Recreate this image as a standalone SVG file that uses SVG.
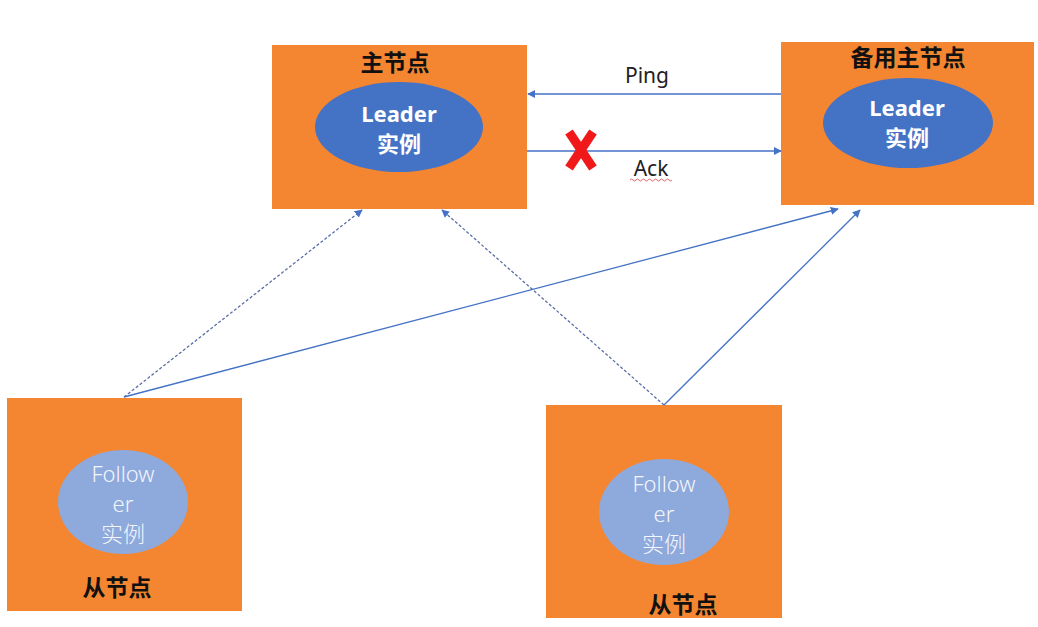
<svg xmlns="http://www.w3.org/2000/svg" width="1038" height="627" viewBox="0 0 1038 627">
<defs>
<marker id="arr" viewBox="0 0 10 10" refX="9" refY="5" markerWidth="8" markerHeight="8" markerUnits="userSpaceOnUse" orient="auto">
<path d="M0,0 L10,5 L0,10 z" fill="#4472C4"/>
</marker>
<style>
.box{fill:#F58631;}
.lead{fill:#4472C4;}
.foll{fill:#8EA9DB;}
.title{font-family:"Noto Sans CJK SC","Noto Sans",sans-serif;font-weight:bold;font-size:23px;fill:#111;text-anchor:middle;}
.lt{font-family:"Noto Sans","Noto Sans CJK SC",sans-serif;font-weight:bold;font-size:22px;fill:#fff;text-anchor:middle;}
.ft{font-family:"Noto Sans","Noto Sans CJK SC",sans-serif;font-weight:300;font-size:22px;fill:#f4f6fb;text-anchor:middle;}
.lbl{font-family:"Noto Sans","Noto Sans CJK SC",sans-serif;font-size:21px;fill:#222;text-anchor:middle;}
.ln{stroke:#4472C4;stroke-width:1.3;fill:none;marker-end:url(#arr);}
.dash{stroke-dasharray:3,2;stroke:#5a6fa8;}
</style>
</defs>
<rect width="1038" height="627" fill="#fff"/>
<g id="master">
<rect class="box" x="272" y="45" width="255" height="164"/>
<text class="title" x="395" y="71">主节点</text>
<ellipse class="lead" cx="399" cy="127" rx="84" ry="45"/>
<text class="lt" x="399" y="122">Leader</text>
<text class="lt" x="399" y="152">实例</text>
</g>
<g id="backup">
<rect class="box" x="781" y="42" width="253" height="163"/>
<text class="title" x="908" y="66">备用主节点</text>
<ellipse class="lead" cx="908" cy="123" rx="85" ry="45"/>
<text class="lt" x="907" y="116">Leader</text>
<text class="lt" x="907" y="146">实例</text>
</g>
<g id="follower1">
<rect class="box" x="7" y="398" width="235" height="213"/>
<ellipse class="foll" cx="123" cy="502" rx="65" ry="52"/>
<text class="ft" x="123" y="482">Follow</text>
<text class="ft" x="123" y="512">er</text>
<text class="ft" x="123" y="542">实例</text>
<text class="title" x="117" y="596">从节点</text>
</g>
<g id="follower2">
<rect class="box" x="546" y="405" width="236" height="213"/>
<ellipse class="foll" cx="664" cy="512" rx="65" ry="53"/>
<text class="ft" x="664" y="492">Follow</text>
<text class="ft" x="664" y="522">er</text>
<text class="ft" x="664" y="552">实例</text>
<text class="title" x="683" y="613">从节点</text>
</g>
<g id="connectors">
<line class="ln" x1="781" y1="94" x2="528" y2="94"/>
<line class="ln" x1="527" y1="151" x2="781" y2="151"/>
<line class="ln dash" x1="124" y1="397" x2="362" y2="210"/>
<line class="ln" x1="124" y1="397" x2="838" y2="209"/>
<line class="ln dash" x1="664" y1="405" x2="442" y2="210"/>
<line class="ln" x1="664" y1="405" x2="860" y2="210"/>
<text class="lbl" x="647" y="83">Ping</text>
<text class="lbl" x="651" y="176">Ack</text>
<path d="M630,180 q1.5,-2 3,0 t3,0 t3,0 t3,0 t3,0 t3,0 t3,0 t3,0 t3,0 t3,0 t3,0 t3,0 t3,0 t3,0" stroke="#e04040" stroke-width="0.8" fill="none"/>
<g id="cross" stroke="#F01818" stroke-width="9" stroke-linecap="butt">
<line x1="569" y1="132" x2="593" y2="168"/>
<line x1="593" y1="132" x2="569" y2="168"/>
</g>
</g>
</svg>
